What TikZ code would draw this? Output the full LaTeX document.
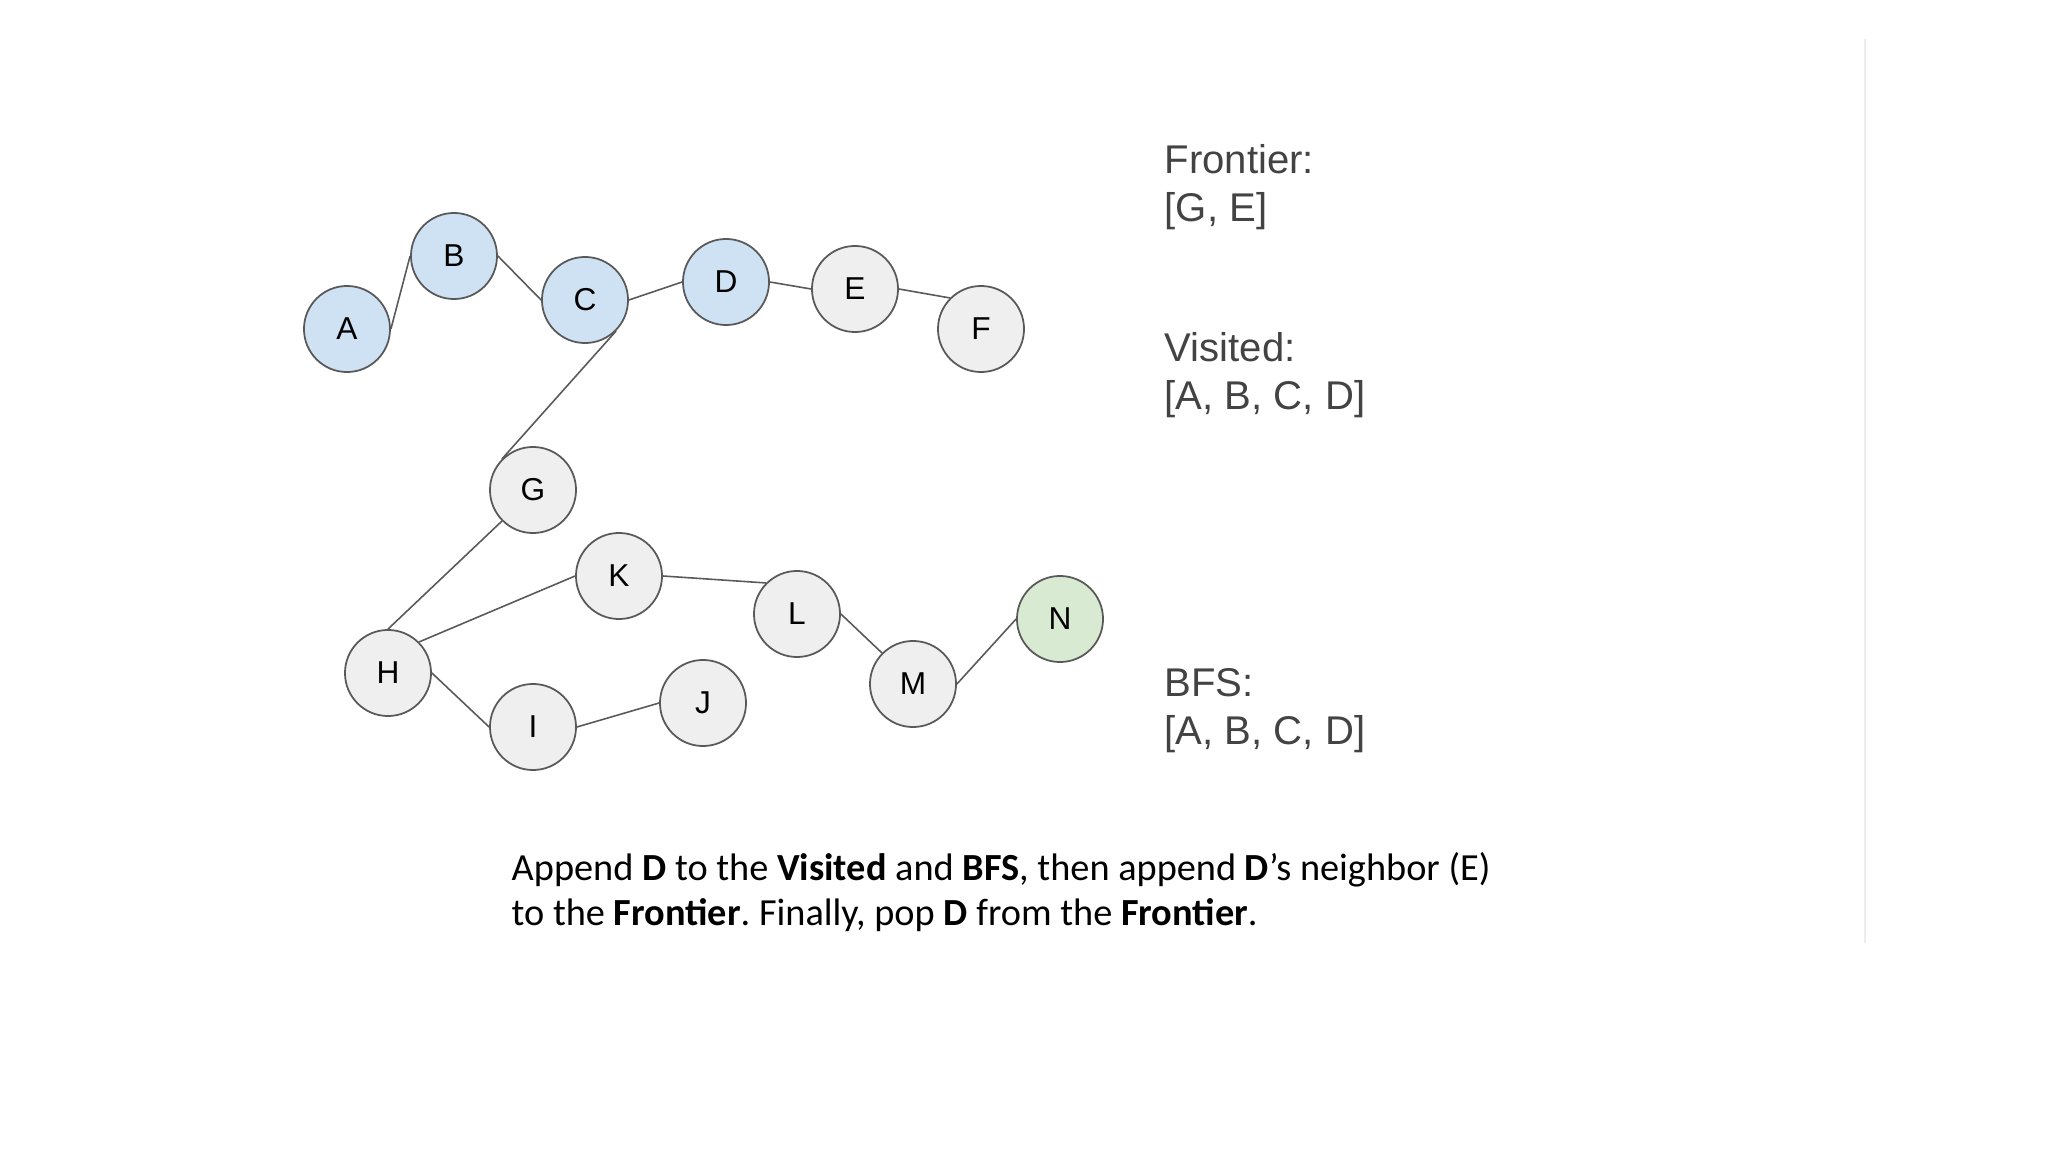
\documentclass[tikz,border=0pt]{standalone}
\usepackage{fontspec}
\setmainfont{Liberation Sans}
\newfontfamily\captionfont{Carlito}
\usepackage{xcolor}
\usetikzlibrary{math}
\definecolor{visitedblue}{HTML}{CFE2F3}
\definecolor{plaingray}{HTML}{EFEFEF}
\definecolor{goalgreen}{HTML}{D9EAD3}
\definecolor{rimgray}{HTML}{595959}
\definecolor{labelgray}{HTML}{434343}
\frenchspacing

\begin{document}
\begin{tikzpicture}[x=0.01cm, y=-0.01cm,
  vertex/.style={circle, draw=rimgray, line width=0.5pt, fill=plaingray,
    minimum size=0.86cm, inner sep=0pt, font=\fontsize{9}{10}\selectfont},
  done/.style={vertex, fill=visitedblue},
  goal/.style={vertex, fill=goalgreen},
  link/.style={draw=rimgray, line width=0.45pt},
  info/.style={anchor=base west, inner sep=0pt, text=labelgray,
    font=\fontsize{11.4}{13}\selectfont},
  note/.style={anchor=base west, inner sep=0pt,
    font=\captionfont\fontsize{10.9}{13}\selectfont}]
\tikzmath{
\sx=1164;
\cx=511;
}
\useasboundingbox (0,0) rectangle (2048,1152);

%graph
\node[done] (A) at (347,329) {A};
\node[done] (B) at (454,256) {B};
\node[done] (C) at (585,300) {C};
\node[done] (D) at (726,282) {D};
\node[vertex] (E) at (855,289) {E};
\node[vertex] (F) at (981,329) {F};
\node[vertex] (G) at (533,490) {G};
\node[vertex] (H) at (388,673) {H};
\node[vertex] (I) at (533,727) {I};
\node[vertex] (J) at (703,703) {J};
\node[vertex] (K) at (619,576) {K};
\node[vertex] (L) at (797,614) {L};
\node[vertex] (M) at (913,684) {M};
\node[goal] (N) at (1060,619) {N};

\draw[link] (A.east) -- (B.west);
\draw[link] (B.east) -- (C.west);
\draw[link] (C.east) -- (D.west);
\draw[link] (D.east) -- (E.west);
\draw[link] (E.east) -- (F.north west);
\draw[link] (C.south east) -- (G.north west);
\draw[link] (G.south west) -- (H.north);
\draw[link] (H.north east) -- (K.west);
\draw[link] (H.east) -- (I.west);
\draw[link] (I.east) -- (J.west);
\draw[link] (K.east) -- (L.north west);
\draw[link] (L.east) -- (M.north west);
\draw[link] (M.east) -- (N.west);

%lists
\node[info] (frontier) at (\sx,174) {Frontier:};
\node[info] (frontierlist) at (\sx,222) {[G, E]};
\node[info] (visited) at (\sx,362) {Visited:};
\node[info] (visitedlist) at (\sx,410) {[A, B, C, D]};
\node[info] (bfs) at (\sx,696) {BFS:};
\node[info] (bfslist) at (\sx,744) {[A, B, C, D]};

%caption
\node[note] (stepa) at (\cx,880) {Append \textbf{D} to the \textbf{Visited} and \textbf{BFS}, then append \textbf{D}’s neighbor (E)};
\node[note] (stepb) at (\cx,925) {to the \textbf{Frontier}. Finally, pop \textbf{D} from the \textbf{Frontier}.};

\draw[line width=0.5pt, black!7] (1865,39) -- (1865,943);
\end{tikzpicture}
\end{document}
